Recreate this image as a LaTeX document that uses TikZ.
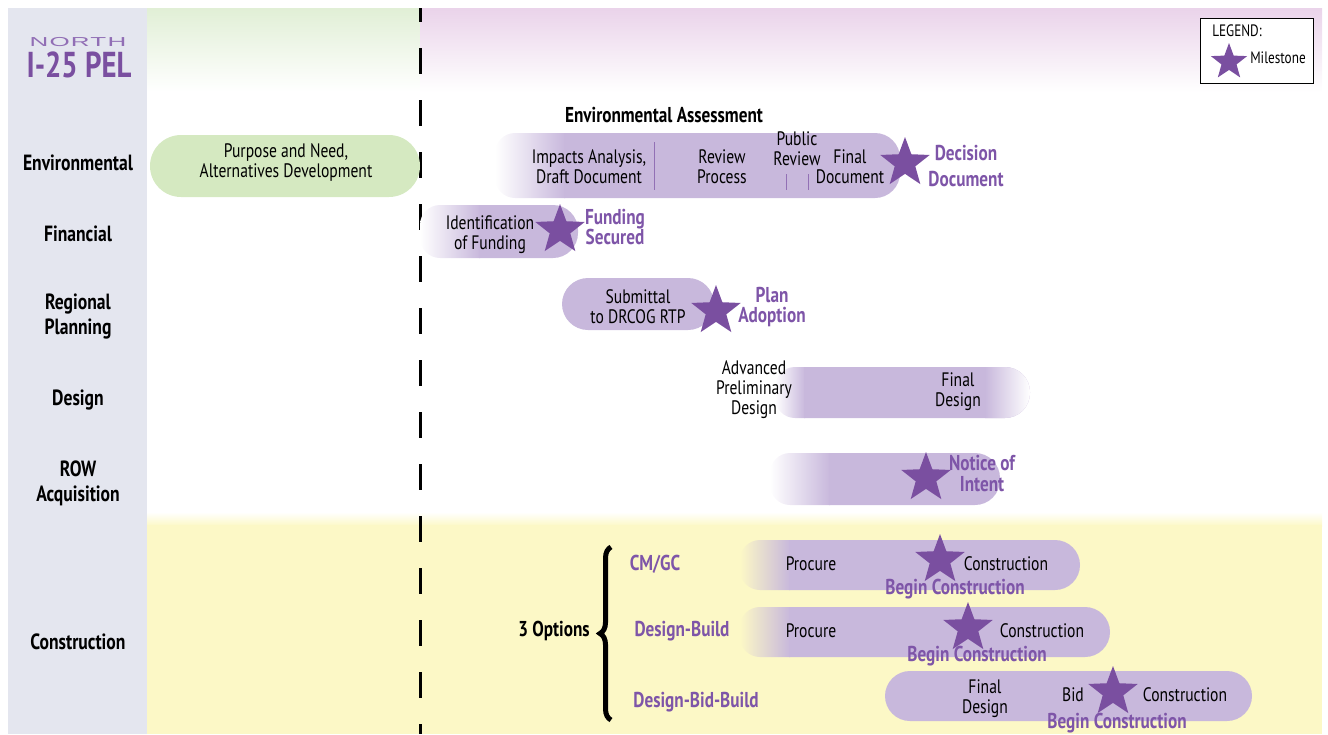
\documentclass[tikz,border=0pt]{standalone}
\usepackage{fontspec}
\setmainfont{PT Sans}[FakeStretch=0.8]
\newfontfamily\widefont{Liberation Sans}[FakeStretch=2.0,LetterSpace=9]
\usetikzlibrary{shapes.geometric,decorations.pathreplacing}
\definecolor{barc}{HTML}{C8B8DC}
\definecolor{starc}{HTML}{7A4FA0}
\definecolor{ptext}{HTML}{7E55A8}
\definecolor{leftcol}{HTML}{E4E6EF}
\definecolor{greenbar}{HTML}{D5E9C1}
\definecolor{greentop}{HTML}{E1EFD6}
\definecolor{pinktop}{HTML}{EAD3EA}
\definecolor{yel}{HTML}{FCF8C6}
\definecolor{linec}{HTML}{9270B5}
% left-faded bar: x0 (faded start), xf (end of fade), x1 (rounded end), y0, y1, background
\newcommand\lfbar[6]{%
  \shade[left color=#6,right color=barc] (#2,#4) [rounded corners=20pt]-- (#1,#4) -- (#1,#5) [sharp corners]-- (#2,#5) -- cycle;
  \fill[barc] (#2-1,#4) [rounded corners=25pt]-- (#3,#4) -- (#3,#5) [sharp corners]-- (#2-1,#5) -- cycle;}
\tikzset{
  rowlbl/.style={font=\bfseries\fontsize{22}{25}\selectfont,align=center,inner sep=0pt},
  txt/.style={font=\fontsize{19.5}{20}\selectfont,align=center,inner sep=0pt},
  mile/.style={font=\bfseries\fontsize{21.5}{26}\selectfont,text=ptext,align=center,inner sep=0pt},
  milestar/.style={star,star points=5,star point ratio=2.4,fill=starc,minimum size=52pt,inner sep=0pt},
  optlbl/.style={font=\bfseries\fontsize{21.5}{20}\selectfont,text=ptext,inner sep=0pt},
  sep/.style={draw=linec,line width=1pt},
  legtxt/.style={font=\fontsize{16.5}{16}\selectfont,inner sep=0pt},
}
\begin{document}
\begin{tikzpicture}[x=1pt,y=-1pt]
\useasboundingbox (0,0) rectangle (1328,734);
% backgrounds
\fill[leftcol] (8,8) rectangle (147,734);
\shade[top color=greentop,bottom color=white] (147,8) rectangle (420,92);
\shade[top color=pinktop,bottom color=white] (420,8) rectangle (1322,92);
\shade[top color=white,bottom color=yel] (147,512) rectangle (1322,526);
\fill[yel] (147,525) rectangle (1322,734);
% dashed divider
\begin{scope}
\clip (0,8) rectangle (1328,734);
\draw[line width=3pt,dash pattern=on 26pt off 26pt] (420,-4) -- (420,734);
\end{scope}
% title
\node[font=\widefont\fontsize{13}{14}\selectfont,text=ptext!85,inner sep=0pt] (north) at (78,42) {NORTH};
\node[font=\bfseries\fontsize{36}{38}\selectfont,text=starc,inner sep=0pt] (pel) at (79,65) {I-25 PEL};
% row labels
\node[rowlbl] (renv) at (78,163) {Environmental};
\node[rowlbl] (rfin) at (78,234) {Financial};
\node[rowlbl] (rreg) at (78,317) {Regional\\Planning};
\node[rowlbl] (rdes) at (78,400) {Design};
\node[rowlbl] (rrow) at (78,483) {ROW\\Acquisition};
\node[rowlbl] (rcon) at (78,642) {Construction};
% legend
\draw[line width=1pt,fill=white] (1200,18) rectangle (1313,83);
\node[legtxt] (leg) at (1237,31) {LEGEND:};
\node[milestar,minimum size=38pt] (legstar) at (1229,62) {};
\node[legtxt] (legm) at (1278,58) {Milestone};
% Environmental
\fill[greenbar] (150,135) [rounded corners=31pt]-- (420,135) -- (420,197) -- (150,197) -- cycle;
\node[txt] (pn) at (286,163) {Purpose and Need,\\Alternatives Development};
\node[font=\bfseries\fontsize{21.5}{20}\selectfont,inner sep=0pt] (ea) at (664,115) {Environmental Assessment};
\lfbar{495}{565}{900}{133}{198}{white}
\node[txt] (ia) at (589,167) {Impacts Analysis,\\Draft Document};
\draw[sep] (654,142) -- (654,190);
\node[txt] (rp) at (722,167) {Review\\Process};
\node[txt] (pr) at (797,149) {Public\\Review};
\draw[sep] (786,174) -- (786,190);
\draw[sep] (808,174) -- (808,190);
\node[txt] (fd) at (850,167) {Final\\Document};
\node[milestar] (s1) at (905,163) {};
\node[mile] (dd) at (966,166) {Decision\\Document};
% Financial
\lfbar{420}{480}{578}{205}{258}{white}
\node[txt] (idf) at (490,235) {Identification\\of Funding};
\node[milestar] (s2) at (560,230) {};
\node[mile,font=\bfseries\fontsize{21.5}{20}\selectfont] (fs) at (615,227) {Funding\\Secured};
% Regional planning
\fill[barc] (562,278) [rounded corners=26pt]-- (714,278) -- (714,330) -- (562,330) -- cycle;
\node[txt] (sub) at (638,307) {Submittal\\to DRCOG RTP};
\node[milestar] (s3) at (716,311) {};
\node[mile,font=\bfseries\fontsize{21.5}{20}\selectfont] (pa) at (772,307) {Plan\\Adoption};
% Design
\lfbar{775}{805}{1030}{367}{418}{white}
\shade[left color=barc,right color=white] (985,367) [rounded corners=25pt]-- (1030,367) -- (1030,418) [sharp corners]-- (985,418) -- cycle;
\node[txt] (apd) at (754,390) {Advanced\\Preliminary\\Design};
\node[txt] (fdes) at (958,392) {Final\\Design};
% ROW
\lfbar{770}{830}{1000}{453}{505}{white}
\node[milestar] (s4) at (926,478) {};
\node[mile,font=\bfseries\fontsize{21.5}{21}\selectfont] (noi) at (982,473) {Notice of\\Intent};
% Construction
\node[font=\bfseries\fontsize{21.5}{20}\selectfont,inner sep=0pt] (opt) at (554,631) {3 Options};
\draw[line width=5pt,decorate,decoration={brace,amplitude=11pt}] (611,720) -- (611,547);
\node[optlbl] (cmgc) at (655,564) {CM/GC};
\node[optlbl] (db) at (682,631) {Design-Build};
\node[optlbl] (dbb) at (696,702) {Design-Bid-Build};
\lfbar{740}{790}{1080}{540}{590}{yel}
\node[txt] (p1) at (811,564) {Procure};
\node[milestar] (s5) at (940,560) {};
\node[txt] (c1) at (1006,564) {Construction};
\node[mile] (b1) at (955,589) {Begin Construction};
\lfbar{740}{790}{1110}{607}{657}{yel}
\node[txt] (p2) at (811,631) {Procure};
\node[milestar] (s6) at (968,628) {};
\node[txt] (c2) at (1042,631) {Construction};
\node[mile] (b2) at (977,656) {Begin Construction};
\fill[barc] (885,671) [rounded corners=25pt]-- (1252,671) -- (1252,721) -- (885,721) -- cycle;
\node[txt] (fd3) at (985,699) {Final\\Design};
\node[txt] (bid) at (1073,695) {Bid};
\node[milestar] (s7) at (1113,692) {};
\node[txt] (c3) at (1185,695) {Construction};
\node[mile] (b3) at (1117,723) {Begin Construction};
\end{tikzpicture}
\end{document}
